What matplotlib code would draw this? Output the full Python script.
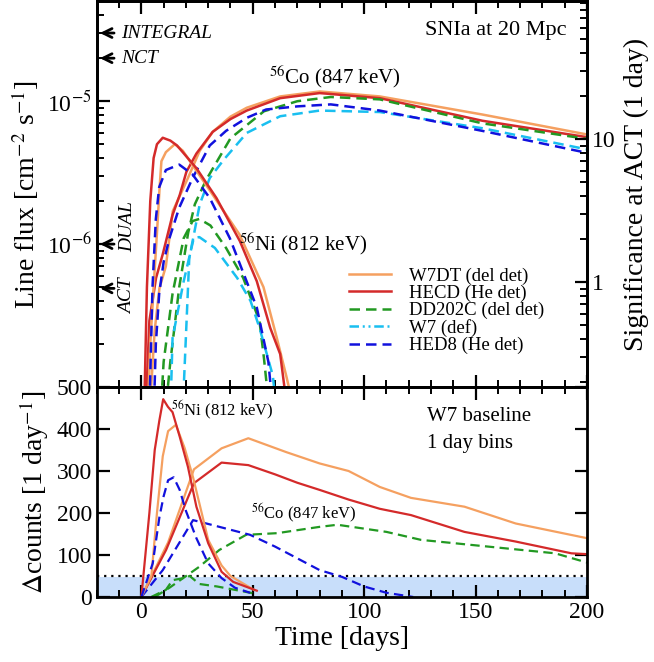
import numpy as np
import matplotlib
matplotlib.use("Agg")
import matplotlib.pyplot as plt
from matplotlib.lines import Line2D
from matplotlib.ticker import MultipleLocator, LogLocator, NullFormatter, FixedLocator, FixedFormatter

plt.rcParams['font.family'] = ['Liberation Serif', 'DejaVu Serif']
plt.rcParams['mathtext.fontset'] = 'stix'

# ---- colours / styles per model
ORANGE = '#f5a060'
RED = '#d42a2a'
GREEN = '#229922'
CYAN = '#19bff0'
BLUE = '#1111dd'

# ---- top panel: line flux [cm^-2 s^-1] vs time [days]
# 56Ni (812 keV)
w7dt_ni_t = [2.8, 4, 5.5, 7, 8.2, 9, 11, 15, 18.6, 29, 44, 54.8, 60.8, 65, 68.5]
w7dt_ni_f = [6e-8, 2e-7, 5e-7, 1.2e-6, 2.5e-6, 3.8e-6, 4.4e-6, 5e-6, 4.5e-6, 2.6e-6, 1.17e-6, 5e-7, 2.2e-7, 1.2e-7, 7e-8]
hecd_ni_t = [1.2, 2.5, 4, 5.5, 7, 9.6, 13, 16, 24.7, 33.7, 44.2, 51.8, 57.8, 62.3, 65]
hecd_ni_f = [6e-8, 5e-7, 2e-6, 4e-6, 5e-6, 5.55e-6, 5.3e-6, 4.9e-6, 3.4e-6, 2.1e-6, 1.05e-6, 5.5e-7, 2.6e-7, 1.7e-7, 8e-8]
dd202c_ni_t = [8.5, 10, 14, 19, 23, 26, 31, 38, 45.7, 53, 55, 57]
dd202c_ni_f = [6e-8, 1.5e-7, 4.5e-7, 1.1e-6, 1.45e-6, 1.5e-6, 1.35e-6, 9.4e-7, 5.8e-7, 2.9e-7, 1.6e-7, 8e-8]
w7_ni_t = [12.8, 14, 19, 23.5, 26, 33, 43, 49, 53, 59, 61]
w7_ni_f = [5e-8, 2.2e-7, 5.5e-7, 1.1e-6, 1.12e-6, 9.4e-7, 5.8e-7, 4e-7, 2.6e-7, 1.2e-7, 6e-8]
hed8_ni_t = [3.5, 5, 6.5, 8, 11, 17, 23, 30.7, 39.7, 51.8, 57, 59]
hed8_ni_f = [6e-8, 5e-7, 1.5e-6, 2.5e-6, 3.3e-6, 3.6e-6, 3.07e-6, 2.1e-6, 1.1e-6, 3.6e-7, 1.5e-7, 7e-8]

# 56Co (847 keV)
w7dt_co_t = [3.5, 6, 8.1, 11, 14.1, 20.9, 26.2, 32, 40, 47.3, 62.3, 80, 107, 153, 200]
w7dt_co_f = [6e-8, 2.5e-7, 4.9e-7, 7e-7, 1.7e-6, 2.9e-6, 4.5e-6, 6.1e-6, 7.8e-6, 9e-6, 1.08e-5, 1.17e-5, 1.08e-5, 8.07e-6, 5.85e-6]
hecd_co_t = [1.8, 3.6, 6.6, 9.6, 14, 17.2, 20.2, 24.7, 32, 40, 47.3, 62.3, 80, 107, 153, 200]
hecd_co_f = [6e-8, 2.9e-7, 5.8e-7, 8.5e-7, 1.6e-6, 2.2e-6, 3.2e-6, 4.3e-6, 6.1e-6, 7.5e-6, 8.6e-6, 1.05e-5, 1.14e-5, 1.05e-5, 7.3e-6, 5.6e-6]
dd202c_co_t = [10.5, 13, 17, 21, 24, 29, 40, 55, 70, 85, 107, 153, 200]
dd202c_co_f = [6e-8, 1.5e-7, 5e-7, 1.2e-6, 1.9e-6, 2.8e-6, 5.5e-6, 8.5e-6, 1.0e-5, 1.07e-5, 1.03e-5, 7.0e-6, 5.45e-6]
w7_co_t = [18.2, 21.5, 23.5, 26.2, 30.7, 37, 47.3, 62.3, 80, 107, 153, 200]
w7_co_f = [5e-8, 8e-7, 1.15e-6, 1.9e-6, 2.9e-6, 3.9e-6, 6.0e-6, 7.85e-6, 8.6e-6, 8.4e-6, 6.47e-6, 4.6e-6]
hed8_co_t = [5.5, 6.5, 8, 10, 12.6, 17, 23, 30.7, 38, 47.3, 56, 70, 85, 107, 153, 200]
hed8_co_f = [6e-8, 2e-7, 4.5e-7, 7.5e-7, 1.1e-6, 1.8e-6, 2.9e-6, 4.9e-6, 6.2e-6, 7.65e-6, 8.75e-6, 9.2e-6, 9.5e-6, 8.6e-6, 6.2e-6, 4.35e-6]

# flux giving significance 1 at ACT in 1 day
ACT_UNIT = 5.42e-7

# instrument sensitivities (arrows)
instr_names = ['INTEGRAL', 'NCT', 'DUAL', 'ACT']
instr_flux = [3.0e-5, 2.0e-5, 1.0e-6, 4.9e-7]

# ---- bottom panel: delta counts relative to W7
w7dt_ni_dt = [0, 4.5, 7, 9.6, 12, 15.5, 19.4, 23.2, 30, 36, 40, 50.5]
w7dt_ni_dc = [0, 50, 200, 335, 395, 410, 355, 285, 136, 75, 50, 17]
hecd_ni_dt = [0, 3.6, 6, 8.1, 9.8, 11.9, 14, 17.2, 20.9, 24.7, 30, 36, 41.2, 51.8]
hecd_ni_dc = [0, 200, 350, 421, 471, 453, 440, 382, 310, 215, 128, 60, 36, 15]
dd202c_ni_dt = [4.4, 11, 14, 18, 21.7, 26, 34, 50]
dd202c_ni_dc = [0, 17, 40, 44, 50, 31, 25, 9]
hed8_ni_dt = [0, 5.1, 8.1, 10, 12, 14.5, 17.2, 20, 24.7, 30, 36, 42, 48.8]
hed8_ni_dc = [0, 80, 190, 240, 278, 285, 255, 205, 140, 80, 45, 22, 10]

w7dt_co_dt = [0, 12, 23.6, 36, 48, 65, 80, 93, 107, 121, 145, 168, 200]
w7dt_co_dc = [0, 130, 304, 354, 378, 345, 318, 300, 262, 236, 215, 175, 140]
hecd_co_dt = [0, 11.1, 23.6, 36, 48, 60, 70, 80, 93, 107, 121, 133, 145, 168, 193, 200]
hecd_co_dc = [0, 112, 271, 320, 314, 292, 272, 255, 232, 210, 195, 175, 155, 132, 104, 102]
dd202c_co_dt = [6, 12.6, 26, 35, 47, 61, 80, 88, 110, 125.5, 155.6, 185.7, 200]
dd202c_co_dc = [0, 22, 72, 112, 148, 152, 167, 172, 155, 136, 120, 104, 82]
hed8_co_dt = [0, 9.6, 23.2, 29.2, 48.8, 60, 70, 80, 90, 100, 110, 122]
hed8_co_dc = [0, 64, 183, 175, 148, 120, 92, 64, 48, 25, 10, 0]

BAND_TOP = 47
DETECT_LEVEL = 50

LW = 1.8
styles = {
    'w7dt': dict(color=ORANGE, lw=LW, ls='-'),
    'hecd': dict(color=RED, lw=LW, ls='-'),
    'dd202c': dict(color=GREEN, lw=LW, ls=(0, (4.2, 2.4))),
    'w7': dict(color=CYAN, lw=LW, ls=(0, (4.2, 2.4))),
    'hed8': dict(color=BLUE, lw=LW, ls=(0, (4.2, 2.4))),
}

fig = plt.figure(figsize=(6.54, 6.62), dpi=100)
ax = fig.add_axes([0.148, 0.4154, 0.7496, 0.5826])
axb = fig.add_axes([0.148, 0.0982, 0.7496, 0.3172])

# ---- top panel
top_series = [
    ('w7dt', w7dt_co_t, w7dt_co_f), ('hecd', hecd_co_t, hecd_co_f),
    ('dd202c', dd202c_co_t, dd202c_co_f), ('w7', w7_co_t, w7_co_f),
    ('hed8', hed8_co_t, hed8_co_f),
    ('w7dt', w7dt_ni_t, w7dt_ni_f), ('hecd', hecd_ni_t, hecd_ni_f),
    ('dd202c', dd202c_ni_t, dd202c_ni_f), ('w7', w7_ni_t, w7_ni_f),
    ('hed8', hed8_ni_t, hed8_ni_f),
]
for key, t, f in top_series:
    ax.plot(t, f, **styles[key])

ax.set_yscale('log')
ax.set_xlim(-20, 200)
ax.set_ylim(1e-7, 5e-5)
ax.set_ylabel('Line flux [cm$^{-2}$ s$^{-1}$]', fontsize=20, labelpad=4)
ax.yaxis.set_major_locator(FixedLocator([1e-6, 1e-5]))
ax.yaxis.set_major_formatter(FixedFormatter(['10$^{-6}$', '10$^{-5}$']))
ax.yaxis.set_minor_locator(LogLocator(base=10, subs=np.arange(2, 10)))
ax.yaxis.set_minor_formatter(NullFormatter())
ax.xaxis.set_major_locator(MultipleLocator(50))
ax.xaxis.set_minor_locator(MultipleLocator(10))
ax.tick_params(axis='x', labelbottom=False)
ax.tick_params(which='both', direction='in', top=True, bottom=True, left=True, right=False)
ax.tick_params(which='major', length=9, width=1.6, labelsize=17)
ax.tick_params(which='minor', length=5, width=1.4)

axr = ax.twinx()
axr.set_yscale('log')
axr.set_ylim(1e-7 / ACT_UNIT, 5e-5 / ACT_UNIT)
axr.yaxis.set_major_locator(FixedLocator([1, 10]))
axr.yaxis.set_major_formatter(FixedFormatter(['1', '10']))
axr.yaxis.set_minor_locator(LogLocator(base=10, subs=np.arange(2, 10)))
axr.yaxis.set_minor_formatter(NullFormatter())
axr.tick_params(which='both', direction='in')
axr.tick_params(which='major', length=9, width=1.6, labelsize=17)
axr.tick_params(which='minor', length=5, width=1.4)
axr.set_ylabel('Significance at ACT (1 day)', fontsize=20, labelpad=6)

for a in (ax, axr, axb):
    for s in a.spines.values():
        s.set_linewidth(2)

# sensitivity arrows
for name, fl in zip(instr_names, instr_flux):
    ax.annotate('', xy=(-19.8, fl), xytext=(-11, fl),
                arrowprops=dict(arrowstyle='->', lw=2, color='k', mutation_scale=16))
for name, fl in zip(instr_names[:2], instr_flux[:2]):
    ax.text(-9.2, fl, name, fontsize=14, style='italic', va='center', ha='left')
ax.text(-6.3, 1.32e-6, 'DUAL', fontsize=14, style='italic', rotation=90, va='center', ha='center')
ax.text(-6.3, 4.3e-7, 'ACT', fontsize=14, style='italic', rotation=90, va='center', ha='center')

ax.text(191, 3.1e-5, 'SNIa at 20 Mpc', fontsize=16, ha='right', va='center')
ax.text(57.5, 1.48e-5, '$^{56}$Co (847 keV)', fontsize=15, ha='left', va='center')
ax.text(44, 1.0e-6, '$^{56}$Ni (812 keV)', fontsize=15, ha='left', va='center')

handles = [Line2D([], [], **styles['w7dt']), Line2D([], [], **styles['hecd']),
           Line2D([], [], **styles['dd202c']),
           Line2D([], [], color=CYAN, lw=LW, ls=(0, (3.8, 1.5, 0.8, 1.5, 0.8, 1.5))),
           Line2D([], [], **styles['hed8'])]
labels = ['W7DT (del det)', 'HECD (He det)', 'DD202C (del det)', 'W7 (def)', 'HED8 (He det)']
ax.legend(handles, labels, loc='upper left', bbox_to_anchor=(0.5, 0.33), frameon=False,
          fontsize=13.5, handlelength=2.2, handletextpad=1.0, labelspacing=0.0,
          borderaxespad=0)

# ---- bottom panel
axb.axhspan(0, BAND_TOP, color='#c8defa', zorder=0, lw=0)
axb.axhline(DETECT_LEVEL, color='k', ls=(0, (1, 2.2)), lw=1.6, zorder=1)

bot_series = [
    ('w7dt', w7dt_co_dt, w7dt_co_dc), ('hecd', hecd_co_dt, hecd_co_dc),
    ('dd202c', dd202c_co_dt, dd202c_co_dc), ('hed8', hed8_co_dt, hed8_co_dc),
    ('w7dt', w7dt_ni_dt, w7dt_ni_dc), ('hecd', hecd_ni_dt, hecd_ni_dc),
    ('dd202c', dd202c_ni_dt, dd202c_ni_dc), ('hed8', hed8_ni_dt, hed8_ni_dc),
]
for key, t, c in bot_series:
    st = dict(styles[key])
    st['lw'] = 1.6
    axb.plot(t, c, **st)

axb.set_xlim(-20, 200)
axb.set_ylim(0, 500)
axb.xaxis.set_major_locator(MultipleLocator(50))
axb.xaxis.set_minor_locator(MultipleLocator(10))
axb.yaxis.set_major_locator(MultipleLocator(100))
axb.tick_params(which='both', direction='in', top=True, right=True)
axb.tick_params(which='major', length=9, width=1.6, labelsize=17)
axb.tick_params(which='minor', length=5, width=1.4)
axb.set_xlabel('Time [days]', fontsize=20, labelpad=2)
axb.set_ylabel('$\\Delta$counts [1 day$^{-1}$]', fontsize=20, labelpad=4)

axb.text(13.5, 445, '$^{56}$Ni (812 keV)', fontsize=12, ha='left', va='center')
axb.text(49, 200, '$^{56}$Co (847 keV)', fontsize=12, ha='left', va='center')
axb.text(128, 430, 'W7 baseline', fontsize=15, ha='left', va='center')
axb.text(128, 365, '1 day bins', fontsize=15, ha='left', va='center')

fig.savefig('out.png', dpi=100)
